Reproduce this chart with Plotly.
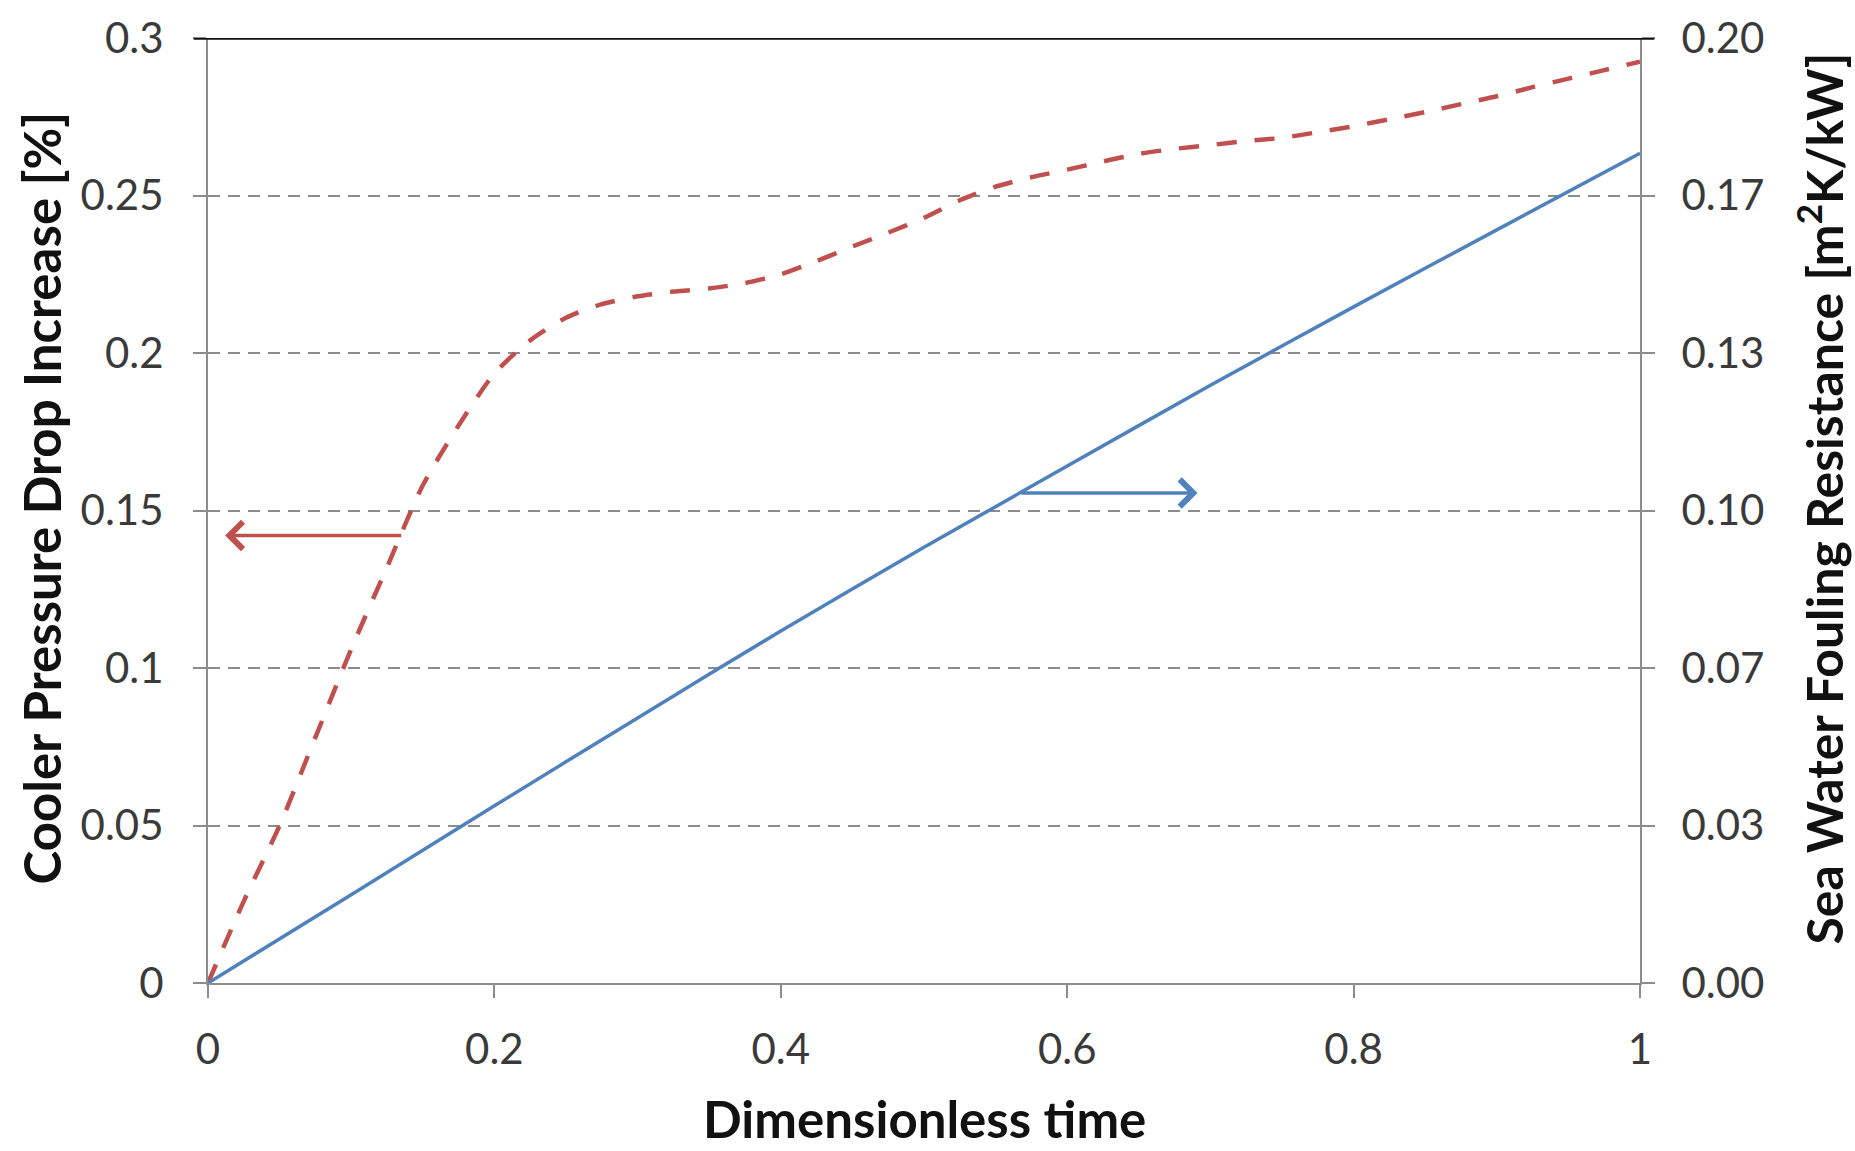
import plotly.graph_objects as go

# ---- data ----
time_dp = [0.0, 0.025, 0.05, 0.075, 0.1, 0.125, 0.15, 0.175, 0.2, 0.225, 0.25,
           0.275, 0.3, 0.325, 0.35, 0.375, 0.4, 0.425, 0.45, 0.475, 0.5, 0.525,
           0.55, 0.575, 0.6, 0.625, 0.65, 0.675, 0.7, 0.725, 0.75, 0.775, 0.8,
           0.825, 0.85, 0.875, 0.9, 0.925, 0.95, 0.975, 1.0]
pressure_drop = [0.0, 0.026, 0.050, 0.078, 0.106, 0.132, 0.158, 0.177, 0.1935,
                 0.2040, 0.2112, 0.2155, 0.218, 0.2195, 0.2205, 0.2222, 0.2250,
                 0.2292, 0.2338, 0.2382, 0.2429, 0.2485, 0.2528, 0.2558, 0.2582,
                 0.2608, 0.2632, 0.2648, 0.2660, 0.2673, 0.2683, 0.2701, 0.2720,
                 0.2742, 0.2765, 0.2790, 0.2815, 0.2844, 0.2871, 0.2898, 0.2925]

time_rf = [0.0, 0.1, 0.2, 0.3, 0.4, 0.5, 0.6, 0.7, 0.8, 0.9, 1.0]
fouling = [0.0, 0.0187, 0.0375, 0.0561, 0.0745, 0.0922, 0.1094, 0.1265,
           0.1431, 0.1594, 0.1756]

x_ticks = [0, 0.2, 0.4, 0.6, 0.8, 1]
x_ticklabels = ["0", "0.2", "0.4", "0.6", "0.8", "1"]
left_ticks = [0, 0.05, 0.1, 0.15, 0.2, 0.25, 0.3]
left_ticklabels = ["0", "0.05", "0.1", "0.15", "0.2", "0.25", "0.3"]
right_ticks = [0, 0.2 / 6, 0.4 / 6, 0.6 / 6, 0.8 / 6, 1.0 / 6, 0.2]
right_ticklabels = ["0.00", "0.03", "0.07", "0.10", "0.13", "0.17", "0.20"]

# arrows: (tail x, tip x, y)
red_arrow = [0.136, 0.012, 0.1421]
blue_arrow = [0.567, 0.691, 0.1037]

RED = "#C0504D"
BLUE = "#4F81BD"
FONT = "Lato"
GRID = "#8c8c8c"
AXIS = "#8c8c8c"

fig = go.Figure()
fig.add_trace(go.Scatter(x=time_dp, y=pressure_drop, mode="lines",
                         line=dict(color=RED, width=4.5, dash="20px,18px", shape="spline", smoothing=0.7),
                         yaxis="y", showlegend=False))
fig.add_trace(go.Scatter(x=time_rf, y=fouling, mode="lines",
                         line=dict(color=BLUE, width=3.5, shape="spline", smoothing=0.6),
                         yaxis="y2", showlegend=False))

tickfont = dict(family=FONT, size=42, color="#3a3a3a")

fig.update_layout(
    width=1855, height=1151,
    margin=dict(l=208, r=215, t=33, b=168),
    paper_bgcolor="white", plot_bgcolor="white",
    xaxis=dict(range=[0, 1], tickvals=x_ticks, ticktext=x_ticklabels,
               showgrid=False, zeroline=False, showline=True, linecolor=AXIS,
               linewidth=2, ticks="outside", ticklen=13, tickwidth=2,
               tickcolor=AXIS, tickfont=tickfont, ticklabelstandoff=16),
    yaxis=dict(range=[0, 0.3], tickvals=left_ticks, ticktext=left_ticklabels,
               showgrid=True, gridcolor=GRID, gridwidth=2, griddash="12px,8px",
               zeroline=False, showline=True, linecolor=AXIS, linewidth=2,
               ticks="outside", ticklen=13, tickwidth=2, tickcolor=AXIS,
               tickfont=tickfont, ticklabelstandoff=21),
    yaxis2=dict(range=[0, 0.2], tickvals=right_ticks, ticktext=right_ticklabels,
                overlaying="y", side="right", showgrid=False, zeroline=False,
                showline=True, linecolor=AXIS, linewidth=2, ticks="outside",
                ticklen=13, tickwidth=2, tickcolor=AXIS, tickfont=tickfont,
                ticklabelstandoff=18),
)

# top border of plot area
fig.add_shape(type="line", xref="paper", yref="y", x0=-0.01, x1=1.01,
              y0=0.3, y1=0.3, line=dict(color="#111111", width=3.5), layer="above")

# arrows
fig.add_annotation(x=red_arrow[1], y=red_arrow[2], ax=red_arrow[0], ay=red_arrow[2],
                   xref="x", yref="y", axref="x", ayref="y", text="",
                   showarrow=True, arrowhead=4, arrowsize=1.5, arrowwidth=3.5,
                   arrowcolor=RED)
fig.add_annotation(x=blue_arrow[1], y=blue_arrow[2], ax=blue_arrow[0], ay=blue_arrow[2],
                   xref="x", yref="y2", axref="x", ayref="y2", text="",
                   showarrow=True, arrowhead=4, arrowsize=1.5, arrowwidth=3.5,
                   arrowcolor=BLUE)

# axis titles
titlefont = dict(family=FONT, size=51, color="#111111")
fig.add_annotation(text="<b>Dimensionless time</b>", xref="paper", yref="paper",
                   x=0.5, y=0, yshift=-135, showarrow=False, font=titlefont,
                   xanchor="center", yanchor="middle")
fig.add_annotation(text="<b>Cooler Pressure Drop Increase [%]</b>", xref="paper",
                   yref="paper", x=0, xshift=-167, y=0.5, yshift=12, textangle=-90,
                   showarrow=False, font=titlefont, xanchor="center", yanchor="middle")
fig.add_annotation(text="<b>Sea Water Fouling Resistance [m<sup>2</sup>K/kW]</b>",
                   xref="paper", yref="paper", x=1, xshift=180, y=0.5, yshift=12,
                   textangle=-90, showarrow=False, font=dict(family=FONT, size=50, color="#111111"),
                   xanchor="center", yanchor="middle")

fig.write_html("out.html", config={"displayModeBar": False},
               post_script="document.body.style.margin='0';")
